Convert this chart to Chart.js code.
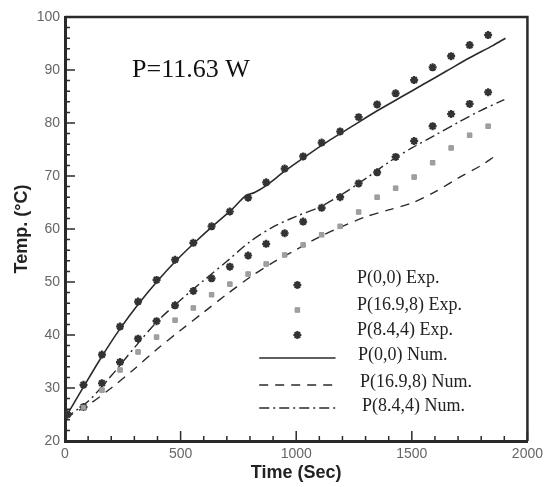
<!DOCTYPE html>
<html>
<head>
<meta charset="utf-8">
<script src="https://cdn.jsdelivr.net/npm/chart.js@4"></script>
<style>
  html, body { margin: 0; padding: 0; background: #fff; }
  #wrap { width: 548px; height: 487px; }
</style>
</head>
<body>
<div id="wrap"><canvas id="tempChart"></canvas></div>
<script>
// measured times (s) of the experimental points
const expTime = [10, 80, 160, 238, 316, 396, 476, 555, 634, 713, 792, 870, 950, 1030, 1110, 1190, 1270, 1350, 1430, 1510, 1590, 1670, 1750, 1830];
const expP00  = [25.0, 30.6, 36.3, 41.6, 46.3, 50.4, 54.2, 57.4, 60.5, 63.3, 65.9, 68.8, 71.4, 73.7, 76.3, 78.4, 81.1, 83.5, 85.6, 88.1, 90.5, 92.6, 94.7, 96.6];
const expP169 = [25.0, 26.3, 29.6, 33.4, 36.8, 39.6, 42.8, 45.1, 47.6, 49.6, 51.5, 53.4, 55.1, 57.0, 58.9, 60.5, 63.2, 66.0, 67.7, 69.8, 72.5, 75.3, 77.7, 79.4];
const expP84  = [25.0, 26.4, 30.9, 34.9, 39.3, 42.6, 45.6, 48.3, 50.7, 52.9, 55.0, 57.2, 59.2, 61.4, 64.0, 66.0, 68.6, 70.7, 73.6, 76.6, 79.4, 81.7, 83.6, 85.8];

// numerical curves
const numTimeP00 = [0, 80, 160, 240, 320, 400, 480, 560, 640, 720, 780, 820, 870, 950, 1050, 1150, 1250, 1350, 1450, 1550, 1650, 1750, 1850, 1905];
const numP00     = [24.3, 30.2, 36.0, 41.3, 46.0, 50.2, 54.0, 57.4, 60.6, 63.6, 66.2, 66.9, 68.2, 70.9, 74.0, 76.9, 79.6, 82.3, 84.8, 87.3, 89.8, 92.3, 94.6, 96.0];
const numTimeP169 = [0, 100, 200, 300, 400, 500, 600, 700, 800, 900, 1000, 1100, 1200, 1300, 1400, 1500, 1600, 1700, 1800, 1855];
const numP169     = [24.3, 26.8, 30.0, 33.6, 37.4, 40.9, 44.3, 47.7, 50.9, 53.7, 56.1, 58.5, 60.5, 62.3, 63.6, 64.9, 67.0, 69.6, 72.0, 73.6];
const numTimeP84 = [0, 100, 200, 300, 400, 500, 600, 700, 800, 900, 1000, 1100, 1200, 1300, 1400, 1500, 1600, 1700, 1800, 1900];
const numP84     = [24.3, 27.5, 32.3, 37.6, 42.6, 46.6, 50.3, 53.9, 57.6, 60.4, 62.4, 64.1, 66.6, 69.5, 72.6, 75.3, 77.7, 80.1, 82.4, 84.4];

const seriesLabels = ['P(0,0) Exp.', 'P(16.9,8) Exp.', 'P(8.4,4) Exp.', 'P(0,0) Num.', 'P(16.9,8) Num.', 'P(8.4,4) Num.'];
const powerLabel = 'P=11.63 W';

const xTicks = [0, 500, 1000, 1500, 2000];
const yTicks = [20, 30, 40, 50, 60, 70, 80, 90, 100];

function pairs(xs, ys) {
    return xs.map((x, i) => ({ x: x, y: ys[i] }));
}

const ink = '#2a2a2a';

const datasets = [
    { label: seriesLabels[0], data: pairs(expTime, expP00), showLine: false,
      pointStyle: 'star', pointRadius: 4, borderWidth: 2.2, borderColor: '#333', backgroundColor: '#333' },
    { label: seriesLabels[1], data: pairs(expTime, expP169), showLine: false,
      pointStyle: 'rect', pointRadius: 3.2, borderWidth: 1, borderColor: '#999', backgroundColor: '#a0a0a0' },
    { label: seriesLabels[2], data: pairs(expTime, expP84), showLine: false,
      pointStyle: 'star', pointRadius: 4, borderWidth: 2.2, borderColor: '#333', backgroundColor: '#333' },
    { label: seriesLabels[3], data: pairs(numTimeP00, numP00), pointRadius: 0,
      borderColor: ink, borderWidth: 1.6, tension: 0.3 },
    { label: seriesLabels[4], data: pairs(numTimeP169, numP169), pointRadius: 0,
      borderColor: ink, borderWidth: 1.4, borderDash: [9, 7], tension: 0.3 },
    { label: seriesLabels[5], data: pairs(numTimeP84, numP84), pointRadius: 0,
      borderColor: ink, borderWidth: 1.4, borderDash: [10, 4, 2, 4], tension: 0.3 }
];

// frame, inward ticks, in-plot legend and power label
const decorations = {
    id: 'decorations',
    afterDraw(chart) {
        const ctx = chart.ctx;
        const area = chart.chartArea;
        const xs = chart.scales.x;
        const ys = chart.scales.y;
        ctx.save();

        // top and right frame
        ctx.strokeStyle = ink;
        ctx.lineWidth = 2.5;
        ctx.beginPath();
        ctx.moveTo(area.left, area.top);
        ctx.lineTo(area.right, area.top);
        ctx.lineTo(area.right, area.bottom);
        ctx.stroke();

        // inward ticks
        ctx.lineWidth = 1.5;
        ctx.beginPath();
        for (let v = 0; v <= 2000; v += 100) {
            const px = xs.getPixelForValue(v);
            const len = v % 500 === 0 ? 10 : 5;
            ctx.moveTo(px, area.bottom);
            ctx.lineTo(px, area.bottom - len);
        }
        for (let v = 20; v <= 100; v += 2) {
            const py = ys.getPixelForValue(v);
            const len = v % 10 === 0 ? 10 : 5;
            ctx.moveTo(area.left, py);
            ctx.lineTo(area.left + len, py);
        }
        ctx.stroke();

        // power label
        ctx.fillStyle = '#111';
        ctx.font = '26px "Liberation Serif", "Times New Roman", serif';
        ctx.textBaseline = 'alphabetic';
        ctx.textAlign = 'left';
        ctx.fillText(powerLabel, xs.getPixelForValue(290), ys.getPixelForValue(88.7));

        // legend
        const sampleL = xs.getPixelForValue(840);
        const sampleR = xs.getPixelForValue(1170);
        const sampleMid = (sampleL + sampleR) / 2;
        const textY = [278, 305, 330, 355, 382, 406];
        const markY = [285, 310, 335, 358, 385, 408];
        const textX = [357, 357, 357, 358, 360, 362];
        ctx.font = '18px "Liberation Serif", "Times New Roman", serif';
        ctx.textBaseline = 'middle';
        chart.data.datasets.forEach((ds, i) => {
            ctx.strokeStyle = ds.borderColor;
            ctx.fillStyle = ds.backgroundColor || ds.borderColor;
            if (ds.showLine === false) {
                ctx.lineWidth = ds.borderWidth;
                Chart.helpers.drawPoint(ctx, {
                    pointStyle: ds.pointStyle, radius: ds.pointRadius,
                    borderWidth: ds.borderWidth, rotation: 0
                }, sampleMid, markY[i]);
            } else {
                ctx.lineWidth = ds.borderWidth;
                ctx.setLineDash(ds.borderDash || []);
                ctx.beginPath();
                ctx.moveTo(sampleL, markY[i]);
                ctx.lineTo(sampleR, markY[i]);
                ctx.stroke();
                ctx.setLineDash([]);
            }
            ctx.fillStyle = '#222';
            ctx.fillText(ds.label, textX[i], textY[i]);
        });

        ctx.restore();
    }
};

const ctx = document.getElementById('tempChart').getContext('2d');
new Chart(ctx, {
    type: 'line',
    data: { datasets: datasets },
    options: {
        responsive: true,
        maintainAspectRatio: false,
        animation: false,
        layout: { padding: { top: 17, right: 16, left: 0, bottom: 0 } },
        plugins: {
            legend: { display: false },
            tooltip: { enabled: false }
        },
        scales: {
            x: {
                type: 'linear',
                min: 0,
                max: 2000,
                afterFit: s => { s.height = 46; },
                afterBuildTicks: s => { s.ticks = xTicks.map(v => ({ value: v })); },
                grid: { display: false, drawTicks: false },
                border: { display: true, color: ink, width: 3 },
                ticks: { padding: 5, color: '#666', font: { family: '"Liberation Sans", Arial, sans-serif', size: 14 },
                         maxRotation: 0, callback: v => String(v) },
                title: { display: true, text: 'Time (Sec)', color: '#222',
                         font: { family: '"Liberation Sans", Arial, sans-serif', size: 18, weight: 'bold' },
                         padding: { top: 0, bottom: 3 } }
            },
            y: {
                min: 20,
                max: 100,
                afterFit: s => { s.width = 65; },
                afterBuildTicks: s => { s.ticks = yTicks.map(v => ({ value: v })); },
                grid: { display: false, drawTicks: false },
                border: { display: true, color: ink, width: 3 },
                ticks: { padding: 5, color: '#666', font: { family: '"Liberation Sans", Arial, sans-serif', size: 14 },
                         callback: v => String(v) },
                title: { display: true, text: 'Temp. (°C)', color: '#222',
                         font: { family: '"Liberation Sans", Arial, sans-serif', size: 18, weight: 'bold' },
                         padding: { top: 11, bottom: 0 } }
            }
        }
    },
    plugins: [decorations]
});
</script>
</body>
</html>
